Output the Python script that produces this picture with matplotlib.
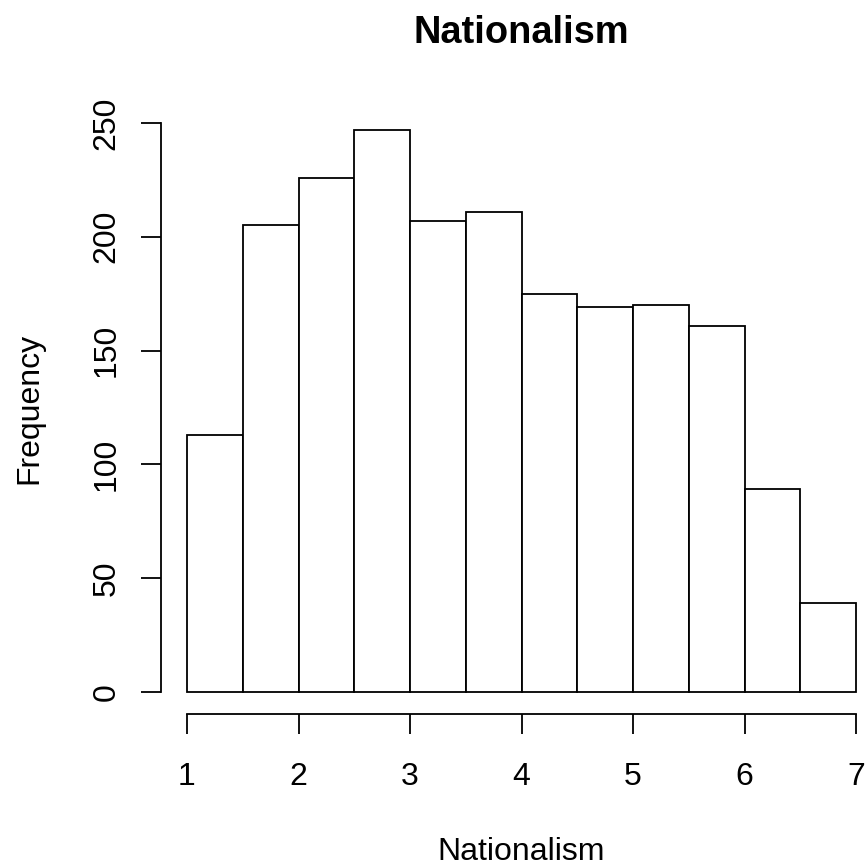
import numpy as np
import matplotlib
matplotlib.use("Agg")
import matplotlib.pyplot as plt

# Histogram data (bin edges and counts)
bin_edges = [1.0, 1.5, 2.0, 2.5, 3.0, 3.5, 4.0, 4.5, 5.0, 5.5, 6.0, 6.5, 7.0]
counts = [113, 205, 226, 247, 207, 211, 175, 169, 170, 161, 89, 39]
x_ticks = [1, 2, 3, 4, 5, 6, 7]
y_ticks = [0, 50, 100, 150, 200, 250]

plt.rcParams['font.family'] = ['Liberation Sans', 'DejaVu Sans']

W, H = 867, 865
fig = plt.figure(figsize=(W / 100, H / 100), dpi=100)
ax = fig.add_axes([187 / W, (H - 692) / H, 669 / W, 569 / H])

lefts = np.array(bin_edges[:-1])
widths = np.diff(bin_edges)
ax.bar(lefts, counts, width=widths, align='edge', color='white',
       edgecolor='black', linewidth=1.3, clip_on=False)

ax.set_xlim(1, 7)
ax.set_ylim(0, 250)

# R-style detached axes
for side in ['top', 'right']:
    ax.spines[side].set_visible(False)
ax.spines['left'].set_position(('outward', 26 * 0.72))
ax.spines['bottom'].set_position(('outward', 22 * 0.72))
ax.spines['left'].set_bounds(0, 250)
ax.spines['bottom'].set_bounds(1, 7)
for side in ['left', 'bottom']:
    ax.spines[side].set_linewidth(1.3)

ax.set_xticks(x_ticks)
ax.set_xticklabels([str(t) for t in x_ticks])
ax.set_yticks(y_ticks)
ax.set_yticklabels([str(t) for t in y_ticks], rotation=90, va='center')
ax.tick_params(axis='both', length=20 * 0.72, width=1.3, labelsize=23,
               direction='out')
ax.tick_params(axis='x', pad=20)
ax.tick_params(axis='y', pad=14)

fig.text(521.5 / W, (H - 43) / H, "Nationalism", ha='center', va='baseline',
         fontsize=27.4, fontweight='bold')
fig.text(521.5 / W, (H - 860) / H, "Nationalism", ha='center', va='baseline',
         fontsize=23)
fig.text(29 / W, (H - 408) / H, "Frequency", ha='center', va='center',
         rotation=90, fontsize=23)

fig.savefig("out.png", dpi=100)
